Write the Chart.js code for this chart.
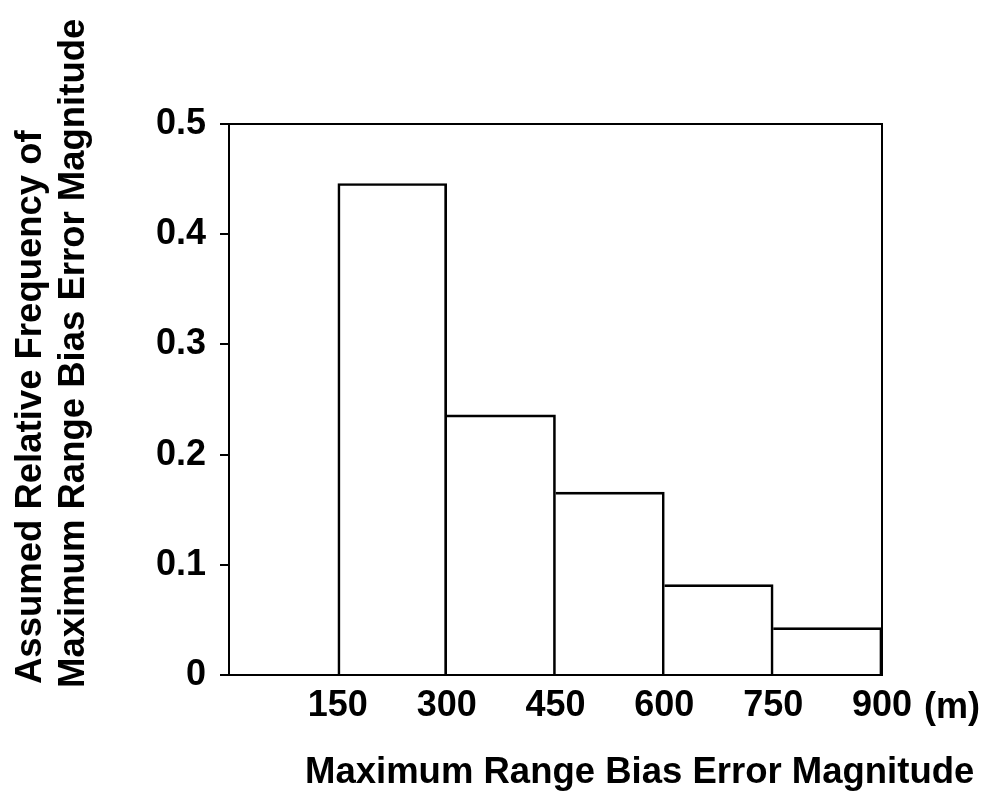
<!DOCTYPE html>
<html>
<head>
<meta charset="utf-8">
<script src="https://cdn.jsdelivr.net/npm/chart.js@4.4.0/dist/chart.umd.min.js"></script>
<style>
  body { margin: 0; background: #fff; }
  #wrap { width: 990px; height: 795px; }
</style>
</head>
<body>
<div id="wrap"><canvas id="histo"></canvas></div>
<script>
// bins of max range bias error (m) and their assumed relative frequency
const binStart = [150, 300, 450, 600, 750];
const binEnd = [300, 450, 600, 750, 900];
const freq = [0.446, 0.236, 0.166, 0.082, 0.043];
const xTicks = [150, 300, 450, 600, 750, 900];
const yTicks = [0, 0.1, 0.2, 0.3, 0.4, 0.5];

const xTitle = 'Maximum Range Bias Error Magnitude';
const yTitle = ['Assumed Relative Frequency of', 'Maximum Range Bias Error Magnitude'];
const unitLabel = '(m)';

const FONT = '"Liberation Sans", Arial, sans-serif';

let points = [];
for (let i = 0; i < freq.length; i++)
    points.push({ x: (binStart[i] + binEnd[i]) / 2, y: freq[i] });

// box round the plot + axis titles drawn by hand
const frameAndTitles = {
    id: 'frameAndTitles',
    afterDraw(chart) {
        const ctx = chart.ctx;
        const a = chart.chartArea;
        ctx.save();
        ctx.strokeStyle = '#000';
        ctx.lineWidth = 2;
        ctx.strokeRect(a.left, a.top, a.right - a.left, a.bottom - a.top);

        ctx.fillStyle = '#000';
        ctx.font = 'bold 36.5px ' + FONT;
        ctx.textAlign = 'left';
        ctx.textBaseline = 'alphabetic';
        ctx.fillText(xTitle, 305, 783);

        // unit after the last tick label
        const xs = chart.scales.x;
        ctx.font = 'bold 36px ' + FONT;
        ctx.fillText(unitLabel, xs.getPixelForValue(900) + 42, 718);

        ctx.font = 'bold 36.5px ' + FONT;
        ctx.rotate(-Math.PI / 2);
        ctx.fillText(yTitle[0], -684, 41);
        ctx.fillText(yTitle[1], -688, 84);
        ctx.restore();
    }
};

const data = {
    datasets: [{
        label: 'Relative frequency',
        data: points,
        backgroundColor: 'rgba(255,255,255,0)',
        borderColor: '#000',
        // neighbouring bins share one edge line
        borderWidth: (c) => ({ top: 2, right: 2, bottom: 0, left: c.dataIndex === 0 ? 2 : 0 }),
        borderSkipped: false,
        barPercentage: 1,
        categoryPercentage: 1
    }]
};

const config = {
    type: 'bar',
    data: data,
    options: {
        responsive: false,
        animation: false,
        layout: { padding: { top: 124, right: 108, left: 0, bottom: 0 } },
        plugins: { legend: { display: false }, tooltip: { enabled: false } },
        scales: {
            x: {
                type: 'linear',
                offset: false,
                min: 0,
                max: 900,
                afterFit: (s) => { s.height = 120; },
                afterBuildTicks: (s) => { s.ticks = xTicks.map(v => ({ value: v })); },
                grid: { display: false, drawTicks: false, offset: false },
                border: { display: true, color: '#000', width: 2 },
                ticks: {
                    color: '#000',
                    padding: 9,
                    maxRotation: 0,
                    autoSkip: false,
                    font: { family: FONT, size: 36, weight: 'bold' }
                }
            },
            y: {
                min: 0,
                max: 0.5,
                afterFit: (s) => { s.width = 229; },
                afterBuildTicks: (s) => { s.ticks = yTicks.map(v => ({ value: v })); },
                grid: { drawOnChartArea: false, drawTicks: true, tickLength: 9, color: '#000', lineWidth: 2 },
                border: { display: true, color: '#000', width: 2 },
                ticks: {
                    color: '#000',
                    padding: 14,
                    font: { family: FONT, size: 36, weight: 'bold' },
                    callback: (v) => String(v)
                }
            }
        }
    },
    plugins: [frameAndTitles]
};

const cv = document.getElementById('histo');
cv.width = 990;
cv.height = 795;
new Chart(cv.getContext('2d'), config);
</script>
</body>
</html>
